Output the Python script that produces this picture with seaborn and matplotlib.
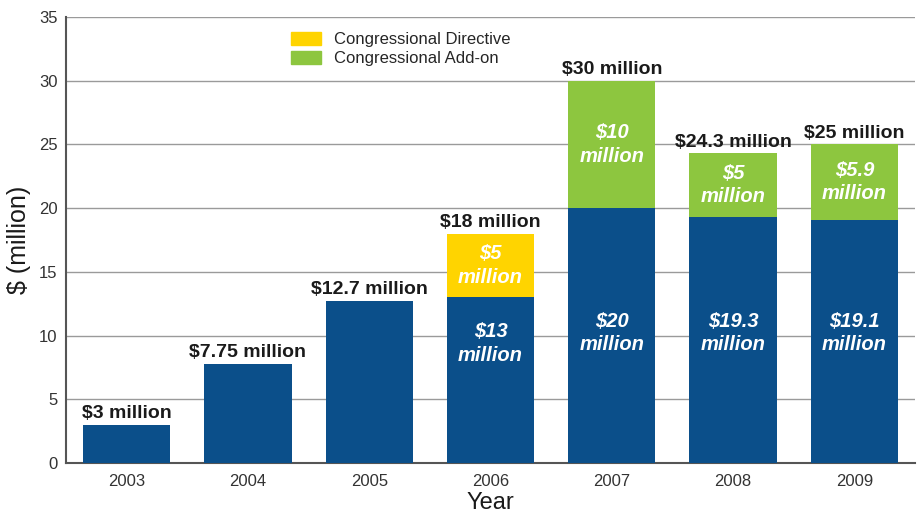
import seaborn as sns
import matplotlib.pyplot as plt
import matplotlib.patches as mpatches
import pandas as pd

# Data
years = ['2003', '2004', '2005', '2006', '2007', '2008', '2009']
base = [3, 7.75, 12.7, 13, 20, 19.3, 19.1]
directive = [0, 0, 0, 5, 0, 0, 0]
addon = [0, 0, 0, 0, 10, 5, 5.9]
total_labels = ['$3 million', '$7.75 million', '$12.7 million', '$18 million',
                '$30 million', '$24.3 million', '$25 million']
base_labels = ['', '', '', '$13\nmillion', '$20\nmillion', '$19.3\nmillion', '$19.1\nmillion']
extra_labels = ['', '', '', '$5\nmillion', '$10\nmillion', '$5\nmillion', '$5.9\nmillion']

df = pd.DataFrame({'year': years, 'base': base, 'directive': directive, 'addon': addon})
df['total'] = df['base'] + df['directive'] + df['addon']

BLUE = '#0b4f8a'
YELLOW = '#ffd400'
GREEN = '#8dc63f'

sns.set_theme(style='white')
plt.rcParams['font.family'] = ['Liberation Sans', 'DejaVu Sans']

fig = plt.figure(figsize=(9.17, 5.17), dpi=100)
ax = fig.add_axes([66 / 917, 54 / 517, 849 / 917, 446 / 517])

# top segment colour: yellow for directive, green for add-on, blue otherwise
top_colors = [YELLOW if d > 0 else GREEN if a > 0 else BLUE for d, a in zip(directive, addon)]
sns.barplot(data=df, x='year', y='total', hue='year', palette=top_colors,
            width=0.72, saturation=1, legend=False, linewidth=0, ax=ax, zorder=3)
sns.barplot(data=df, x='year', y='base', color=BLUE, width=0.72,
            saturation=1, linewidth=0, ax=ax, zorder=3)

# labels
for i, row in df.iterrows():
    ax.annotate(total_labels[i], (i, row['total']), xytext=(0, 2), textcoords='offset points',
                ha='center', va='bottom', fontsize=14, fontweight='bold', color='#1a1a1a')
    if base_labels[i]:
        ax.text(i, min(10.2, 0.72 * row['base']), base_labels[i], ha='center', va='center',
                fontsize=14.5, fontweight='bold', fontstyle='italic', color='white',
                linespacing=1.3, zorder=4)
    if extra_labels[i]:
        ax.text(i, row['base'] + (row['total'] - row['base']) / 2, extra_labels[i],
                ha='center', va='center', fontsize=14.5, fontweight='bold',
                fontstyle='italic', color='white', linespacing=1.3, zorder=4)

ax.set_ylim(0, 35)
ax.set_xlim(-0.5, 6.5)
ax.set_yticks(range(0, 36, 5))
ax.yaxis.grid(True, color='#9a9a9a', linewidth=1, zorder=0)
ax.set_axisbelow(True)

# ticks between the categories
ax.set_xticks(range(len(years)))
ax.set_xticklabels(years, fontsize=12, color='#333333')
ax.set_xticks([i + 0.5 for i in range(len(years) - 1)], minor=True)
ax.tick_params(axis='x', which='major', length=0, pad=8)
ax.tick_params(axis='x', which='minor', length=7, width=1, color='#555555', direction='out')
ax.tick_params(axis='y', length=0, labelsize=12, labelcolor='#333333', pad=6)

for side in ['top', 'right']:
    ax.spines[side].set_visible(False)
for side in ['left', 'bottom']:
    ax.spines[side].set_color('#555555')
    ax.spines[side].set_linewidth(1.5)

ax.set_xlabel('Year', fontsize=17, color='#1a1a1a', labelpad=2)
ax.set_ylabel('$ (million)', fontsize=18, color='#1a1a1a', labelpad=6)

handles = [mpatches.Patch(color=YELLOW, label='Congressional Directive'),
           mpatches.Patch(color=GREEN, label='Congressional Add-on')]
ax.legend(handles=handles, loc='upper left', bbox_to_anchor=(0.247, 1.0), frameon=False,
          fontsize=12, handlelength=1.8, handleheight=0.8, labelspacing=0.25)

fig.savefig('out.png', dpi=100)
